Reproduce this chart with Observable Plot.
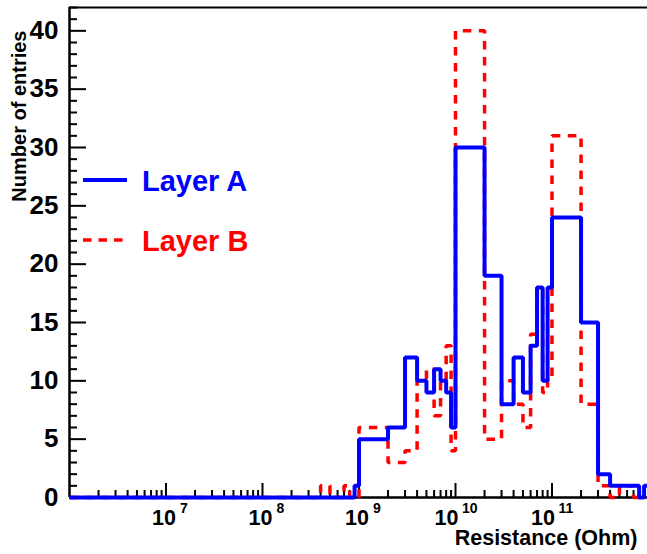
<!DOCTYPE html>
<html><head><meta charset="utf-8">
<script src="https://cdn.jsdelivr.net/npm/d3@7"></script>
<script src="https://cdn.jsdelivr.net/npm/@observablehq/plot@0.6"></script>
<style>html,body{margin:0;padding:0;background:#fff;overflow:hidden}</style>
</head><body><div id="chart"></div>
<script>
// Bin lower edges: k * decade, k = 1..9 (ROOT-style variable log binning)
const decades = [1e6, 1e7, 1e8, 1e9, 1e10, 1e11];
const binSteps = [1, 2, 3, 4, 5, 6, 7, 8, 9];
const xMax = 1e12;

// Counts per decade (9 bins each)
const layerA = [
  [0, 0, 0, 0, 0, 0, 0, 0, 0],
  [0, 0, 0, 0, 0, 0, 0, 0, 0],
  [0, 0, 0, 0, 0, 0, 0, 0, 1],
  [5, 6, 12, 10, 9, 11, 10, 9, 6],
  [30, 19, 8, 12, 9, 13, 18, 10, 18],
  [24, 15, 2, 1, 1, 1, 1, 0, 1]
];
const layerB = [
  [0, 0, 0, 0, 0, 0, 0, 0, 0],
  [0, 0, 0, 0, 0, 0, 0, 0, 0],
  [0, 0, 0, 1, 0, 0, 1, 0, 0],
  [6, 3, 4, 10, 11, 7, 10, 13, 4],
  [40, 5, 10, 8, 6, 14, 18, 9, 10],
  [31, 8, 1, 0, 1, 1, 0, 0, 0]
];
const seriesNames = ["Layer A", "Layer B"];
const seriesColors = ["#0000ff", "#ff0000"];

const yMajorTicks = [0, 5, 10, 15, 20, 25, 30, 35, 40];
const yMinorTicks = d3.range(0, 43).filter(v => v % 5 !== 0);
const xMajorTicks = [1e7, 1e8, 1e9, 1e10, 1e11];
const xLabelExponents = ["7", "8", "9", "10", "11"];
const xTitle = "Resistance (Ohm)";
const yTitle = "Number of entries";

function steps(counts) {
  const pts = [];
  decades.forEach((d, i) => binSteps.forEach((k, j) => pts.push({x: k * d, y: counts[i][j]})));
  pts.push({x: xMax, y: pts[pts.length - 1].y});
  return pts;
}
const dataA = steps(layerA);
const dataB = steps(layerB);
const xMinorTicks = decades.flatMap(d => binSteps.slice(1).map(k => k * d));
const xLabels = xMajorTicks.map((v, i) => ({v, e: xLabelExponents[i]}));

const font = "'Liberation Sans', Arial, Helvetica, sans-serif";
const frameW = 647 - 69;
const frameH = 497 - 7;

const chart = Plot.plot({
  width: 647, height: 554,
  marginLeft: 69, marginRight: 0, marginTop: 7, marginBottom: 57,
  x: {type: "log", domain: [1e6, xMax], range: [69, 648], axis: null},
  y: {domain: [0, 42], range: [497, 7], axis: null},
  style: {fontFamily: font, background: "white", color: "black"},
  marks: [
    Plot.tickY(yMajorTicks, {y: d => d, insetRight: frameW - 17, strokeWidth: 2}),
    Plot.tickY(yMinorTicks, {y: d => d, insetRight: frameW - 8, strokeWidth: 2}),
    Plot.tickX(xMajorTicks, {x: d => d, insetTop: frameH - 14, strokeWidth: 2}),
    Plot.tickX(xMinorTicks, {x: d => d, insetTop: frameH - 7, strokeWidth: 2}),
    Plot.ruleX([1e6], {strokeWidth: 2.5}),
    Plot.ruleY([0], {strokeWidth: 2.5}),
    Plot.ruleY([42], {strokeWidth: 2}),
    Plot.line(dataB, {x: "x", y: "y", curve: "step-after", stroke: seriesColors[1], strokeWidth: 3.5,
      strokeDasharray: "8.5,7.5", strokeLinejoin: "miter", strokeLinecap: "butt"}),
    Plot.line(dataA, {x: "x", y: "y", curve: "step-after", stroke: seriesColors[0], strokeWidth: 4,
      strokeLinejoin: "miter", strokeLinecap: "butt"}),
    Plot.text(yMajorTicks, {y: d => d, frameAnchor: "left", dx: -11, textAnchor: "end",
      text: d => String(d), fontSize: 26, fontWeight: "bold"}),
    Plot.text(xLabels.filter(d => d.e.length === 1), {x: "v", frameAnchor: "bottom", dy: 27, dx: 10,
      textAnchor: "end", text: () => "10", fontSize: 21.5, fontWeight: "bold"}),
    Plot.text(xLabels.filter(d => d.e.length === 1), {x: "v", frameAnchor: "bottom", dy: 15.5, dx: 14,
      textAnchor: "start", text: "e", fontSize: 14, fontWeight: "bold"}),
    Plot.text(xLabels.filter(d => d.e.length === 2), {x: "v", frameAnchor: "bottom", dy: 27, dx: 3,
      textAnchor: "end", text: () => "10", fontSize: 21.5, fontWeight: "bold"}),
    Plot.text(xLabels.filter(d => d.e.length === 2), {x: "v", frameAnchor: "bottom", dy: 15.5, dx: 6.5,
      textAnchor: "start", text: "e", fontSize: 14, fontWeight: "bold"}),
    Plot.text([xTitle], {frameAnchor: "bottom-right", dx: -10, dy: 47.5, textAnchor: "end",
      fontSize: 21.5, fontWeight: "bold"}),
    Plot.text([yTitle], {frameAnchor: "top-left", dx: -58, dy: 23, rotate: -90, textAnchor: "end",
      fontSize: 20, fontWeight: "bold"})
  ]
});
document.getElementById("chart").appendChild(chart);

// Legend (inside the frame, upper left)
const svg = d3.select(chart);
const leg = svg.append("g").attr("font-family", font).attr("font-weight", "bold")
  .attr("font-size", 29).attr("text-anchor", "start");
const legendRows = [
  {name: seriesNames[0], color: seriesColors[0], dash: null, y: 180, x2: 127, w: 4},
  {name: seriesNames[1], color: seriesColors[1], dash: "8.5,7", y: 240, x2: 123, w: 3.5}
];
legendRows.forEach(r => {
  leg.append("line").attr("x1", 83).attr("x2", r.x2).attr("y1", r.y).attr("y2", r.y)
    .attr("stroke", r.color).attr("stroke-width", r.w).attr("stroke-dasharray", r.dash);
  leg.append("text").attr("x", 142).attr("y", r.y + 11).attr("fill", r.color)
    .attr("text-anchor", "start").text(r.name);
});
</script>
</body></html>
